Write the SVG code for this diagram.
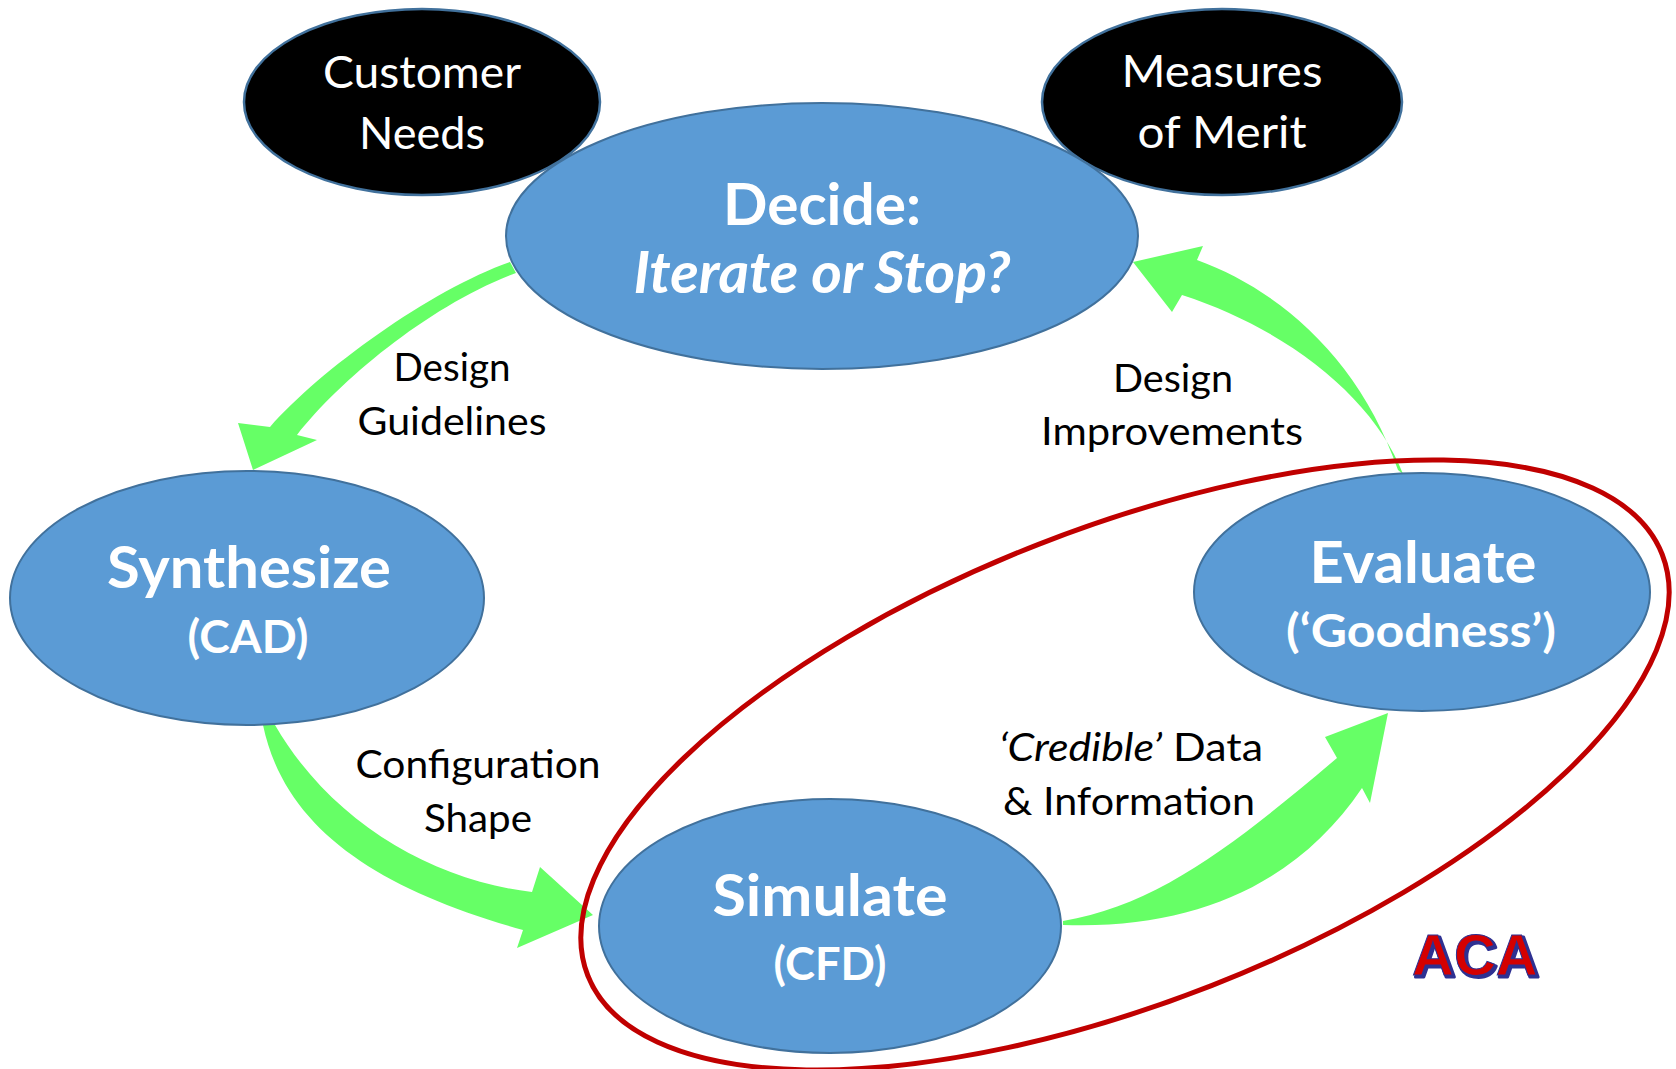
<svg xmlns="http://www.w3.org/2000/svg" width="1676" height="1069" viewBox="0 0 1676 1069">
<style>
.blue{fill:#5B9BD5;stroke:#41719C;stroke-width:2}
.black{fill:#000000;stroke:#41719C;stroke-width:2.5}
.arrow{fill:#66FF66;stroke:none}
.t{font-family:Lato,"Open Sans","Liberation Sans",sans-serif;text-anchor:middle}
.wt{fill:#FFFFFF;font-size:45px}
.title{fill:#FFFFFF;font-size:57px;font-weight:bold}
.sub{fill:#FFFFFF;font-size:45px;font-weight:bold}
.lbl{fill:#000000;font-size:39px}
.aca{font-family:"Liberation Sans",Arial,sans-serif;font-weight:bold;font-size:58px}
</style>
<rect width="1676" height="1069" fill="#FFFFFF"/>
<g id="connectors">
<path class="arrow" d="M510,262 C430,290 320,370 270,427 L238,423 L253,470 L317,440 L297,435 C340,380 430,305 516,273 Z"/>
<path class="arrow" d="M1398,470 C1360,360 1280,290 1197,260 L1203,246 L1133,262 L1172,312 L1182,295 C1290,330 1375,400 1403,474 Z"/>
<path class="arrow" d="M263,725 C285,830 380,890 523,930 L517,948 L593,915 L540,867 L532,892 C430,880 330,820 275,725 Z"/>
<path class="arrow" d="M1063,921 C1160,905 1240,840 1337,758 L1325,737 L1388,713 L1370,803 L1362,788 C1300,880 1200,930 1063,925 Z"/>
</g>
<g id="labels">
<text class="t lbl" x="452" y="381" textLength="117" lengthAdjust="spacingAndGlyphs">Design</text>
<text class="t lbl" x="452" y="435" textLength="189" lengthAdjust="spacingAndGlyphs">Guidelines</text>
<text class="t lbl" x="1173" y="392" textLength="120" lengthAdjust="spacingAndGlyphs">Design</text>
<text class="t lbl" x="1172" y="445" textLength="262" lengthAdjust="spacingAndGlyphs">Improvements</text>
<text class="t lbl" x="478" y="778" textLength="245" lengthAdjust="spacingAndGlyphs">Configuration</text>
<text class="t lbl" x="478" y="832" textLength="108" lengthAdjust="spacingAndGlyphs">Shape</text>
<text class="t lbl" x="1131" y="761" textLength="264" lengthAdjust="spacingAndGlyphs"><tspan font-style="italic">‘Credible’</tspan> Data</text>
<text class="t lbl" x="1129" y="815" textLength="252" lengthAdjust="spacingAndGlyphs">&amp; Information</text>
</g>
<g id="customer-needs">
<ellipse class="black" cx="422" cy="102" rx="178" ry="93"/>
<text class="t wt" x="422" y="88" textLength="198" lengthAdjust="spacingAndGlyphs">Customer</text>
<text class="t wt" x="422" y="149" textLength="126" lengthAdjust="spacingAndGlyphs">Needs</text>
</g>
<g id="measures-of-merit">
<ellipse class="black" cx="1222" cy="102" rx="180" ry="93"/>
<text class="t wt" x="1222" y="87" textLength="201" lengthAdjust="spacingAndGlyphs">Measures</text>
<text class="t wt" x="1222" y="148" textLength="169" lengthAdjust="spacingAndGlyphs">of Merit</text>
</g>
<g id="decide">
<ellipse class="blue" cx="822" cy="236" rx="316" ry="133"/>
<text class="t title" x="822" y="225" textLength="198" lengthAdjust="spacingAndGlyphs">Decide:</text>
<text class="t title" x="822" y="293" font-style="italic" textLength="377" lengthAdjust="spacingAndGlyphs">Iterate or Stop?</text>
</g>
<g id="synthesize">
<ellipse class="blue" cx="247" cy="598" rx="237" ry="127"/>
<text class="t title" x="249" y="588" textLength="284" lengthAdjust="spacingAndGlyphs">Synthesize</text>
<text class="t sub" x="248" y="653" textLength="121" lengthAdjust="spacingAndGlyphs">(CAD)</text>
</g>
<g id="evaluate">
<ellipse class="blue" cx="1422" cy="592" rx="228" ry="119"/>
<text class="t title" x="1423" y="583" textLength="227" lengthAdjust="spacingAndGlyphs">Evaluate</text>
<text class="t sub" x="1421" y="647" textLength="270" lengthAdjust="spacingAndGlyphs">(‘Goodness’)</text>
</g>
<g id="simulate">
<ellipse class="blue" cx="830" cy="926" rx="231" ry="127"/>
<text class="t title" x="830" y="916" textLength="235" lengthAdjust="spacingAndGlyphs">Simulate</text>
<text class="t sub" x="830" y="980" textLength="113" lengthAdjust="spacingAndGlyphs">(CFD)</text>
</g>
<g id="aca-boundary">
<ellipse cx="1125" cy="765" rx="577" ry="237" transform="rotate(-21.4 1125 765)" fill="none" stroke="#C00000" stroke-width="5"/>
</g>
<g id="aca-label">
<text class="aca" x="1414" y="977" fill="#2E3192" stroke="#2E3192" stroke-width="3" stroke-linejoin="round">ACA</text>
<text class="aca" x="1412" y="975" fill="#D40000" stroke="#2E3192" stroke-width="1">ACA</text>
</g>
</svg>
